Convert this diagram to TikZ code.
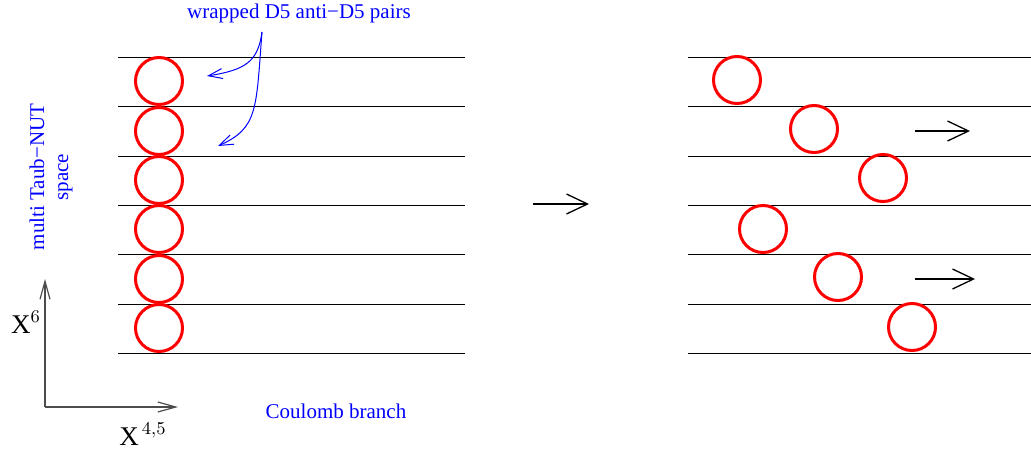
\documentclass[tikz,border=0pt]{standalone}
\usepackage{fontspec}
\setmainfont{Liberation Serif}
\usetikzlibrary{arrows.meta, positioning}

\begin{document}
\begin{tikzpicture}[x=0.5pt, y=-0.5pt,
            brane/.style={circle, draw=red, line width=1.5pt, minimum size=23.5pt, inner sep=0pt},
            sheet/.style={line width=0.5pt},
            move/.style={line width=0.65pt, -{Straight Barb[length=10.5pt, width=10pt]}},
            axis/.style={line width=0.6pt, black!70, -{Straight Barb[length=9pt, width=5pt]}},
            pointer/.style={line width=0.5pt, blue, -{Straight Barb[length=7pt, width=5pt]}},
            note/.style={text=blue, font=\fontsize{10.5}{12}\selectfont, inner sep=0pt},
            coord/.style={font=\fontsize{13.5}{15}\selectfont, inner sep=0pt}
        ]
        \useasboundingbox (0,0) rectangle (1031,455);

        % Sheets (manual layout to match figure)
        \foreach \y in {57,106,156,205,254,304,353} {
            \draw[sheet] (118,\y) -- (465,\y);
            \draw[sheet] (688,\y) -- (1031,\y);
        }

        % Branes, left side
        \node[brane] (l1) at (159,81) {};
        \node[brane] (l2) at (159,131) {};
        \node[brane] (l3) at (159,180) {};
        \node[brane] (l4) at (159,229) {};
        \node[brane] (l5) at (159,279) {};
        \node[brane] (l6) at (159,328) {};

        % Branes, right side
        \node[brane] (r1) at (737,80) {};
        \node[brane] (r2) at (814,129) {};
        \node[brane] (r3) at (883,178) {};
        \node[brane] (r4) at (763,229) {};
        \node[brane] (r5) at (838,277) {};
        \node[brane] (r6) at (912,327) {};

        % Labels
        \node[note] (wrapped) at (299,13) {wrapped D5 anti−D5 pairs};
        \node[note, rotate=90, align=center] (taub) at (51,177) {multi Taub−NUT\\space};
        \node[note] (coulomb) at (336,411) {Coulomb branch};
        \node[coord] (x6) at (26,322) {X$^{6}$};
        \node[coord] (x45) at (143,434) {X$^{\,4,5}$};

        % Coordinates for the arrows
        \coordinate (src) at (262,32);
        \coordinate (tip1) at (207,76);
        \coordinate (tip2) at (218,146);
        \coordinate (o) at (45,407);
        \coordinate (up) at (45,279);
        \coordinate (right) at (178,407);
        \coordinate (m1) at (533,204);
        \coordinate (m2) at (589,204);
        \coordinate (a1) at (915,131);
        \coordinate (b1) at (970,131);
        \coordinate (a2) at (915,279);
        \coordinate (b2) at (975,279);

        % Arrows
        \draw[pointer] (src) .. controls (258,62) and (245,70) .. (tip1);
        \draw[pointer] (src) .. controls (256,110) and (258,128) .. (tip2);
        \draw[axis] (o) -- (up);
        \draw[axis] (o) -- (right);
        \draw[move] (m1) -- (m2);
        \draw[move] (a1) -- (b1);
        \draw[move] (a2) -- (b2);

    \end{tikzpicture}
\end{document}
